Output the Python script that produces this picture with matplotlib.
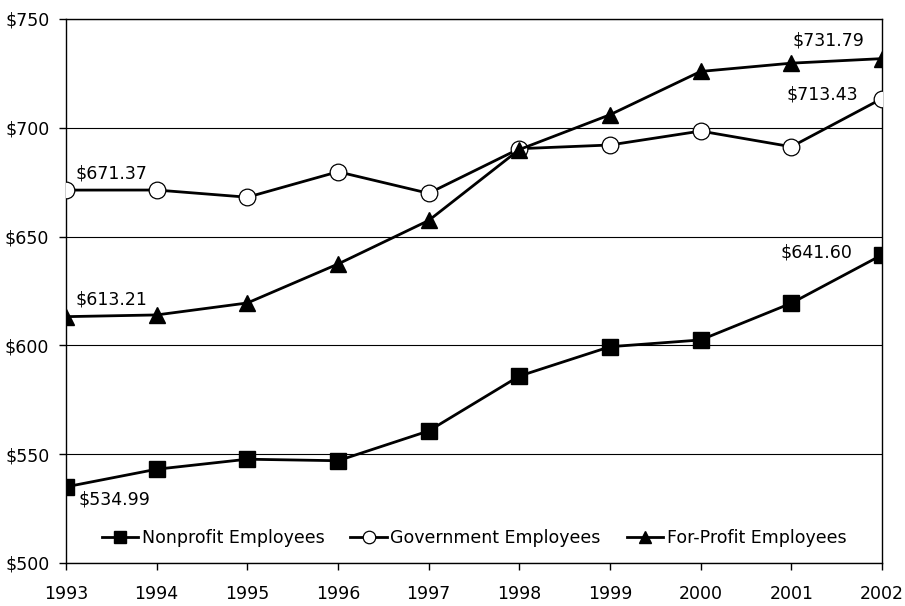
import numpy as np
import matplotlib
matplotlib.use("Agg")
import matplotlib.pyplot as plt

# data
years = [1993, 1994, 1995, 1996, 1997, 1998, 1999, 2000, 2001, 2002]
nonprofit = [534.99, 543.1, 547.7, 547.0, 560.7, 585.9, 599.4, 602.5, 619.4, 641.60]
government = [671.37, 671.4, 668.1, 679.8, 669.9, 690.4, 692.1, 698.5, 691.3, 713.43]
forprofit = [613.21, 614.0, 619.5, 637.4, 657.4, 690.0, 706.0, 725.9, 729.7, 731.79]
y_ticks = [500, 550, 600, 650, 700, 750]

plt.rcParams['font.family'] = ['DejaVu Sans']
fig = plt.figure(figsize=(9.05, 6.06), dpi=100)
ax = fig.add_axes([66 / 905, 1 - 563 / 606, (882 - 66) / 905, (563 - 19) / 606])

ax.plot(years, nonprofit, color='black', lw=2, marker='s', ms=11,
        mfc='black', mec='black', label='Nonprofit Employees', zorder=3)
ax.plot(years, government, color='black', lw=2, marker='o', ms=12,
        mfc='white', mec='black', mew=0.9, label='Government Employees', zorder=3)
ax.plot(years, forprofit, color='black', lw=2, marker='^', ms=12,
        mfc='black', mec='black', label='For-Profit Employees', zorder=4)

ax.set_xlim(1993, 2002)
ax.set_ylim(500, 750)
ax.set_xticks(years)
ax.set_yticks(y_ticks)
ax.set_yticklabels([f"${v}" for v in y_ticks])
ax.tick_params(axis='both', labelsize=12.5, length=5, width=1, direction='out', color='black')
ax.tick_params(axis='x', pad=11)
ax.tick_params(axis='y', pad=7)
ax.grid(axis='y', color='black', lw=0.8)
ax.set_axisbelow(True)
for s in ax.spines.values():
    s.set_color('black')
    s.set_linewidth(1)

# end labels
fs = 12.5
ax.text(years[0] + 0.1, 678.8, f"${government[0]:.2f}", fontsize=fs, ha='left', va='center')
ax.text(years[0] + 0.1, 621.3, f"${forprofit[0]:.2f}", fontsize=fs, ha='left', va='center')
ax.text(years[0] + 0.14, 529.0, f"${nonprofit[0]:.2f}", fontsize=fs, ha='left', va='center')
ax.text(years[-1] - 0.19, 740.3, f"${forprofit[-1]:.2f}", fontsize=fs, ha='right', va='center')
ax.text(years[-1] - 0.26, 715.5, f"${government[-1]:.2f}", fontsize=fs, ha='right', va='center')
ax.text(years[-1] - 0.33, 642.5, f"${nonprofit[-1]:.2f}", fontsize=fs, ha='right', va='center')

ax.legend(loc='center', bbox_to_anchor=(0.5, 25 / 544), ncol=3, frameon=False,
          fontsize=12.5, handlelength=2.1, handletextpad=0.2, columnspacing=1.5,
          markerscale=0.75, borderpad=0, borderaxespad=0)

fig.savefig('out.png', dpi=100)
